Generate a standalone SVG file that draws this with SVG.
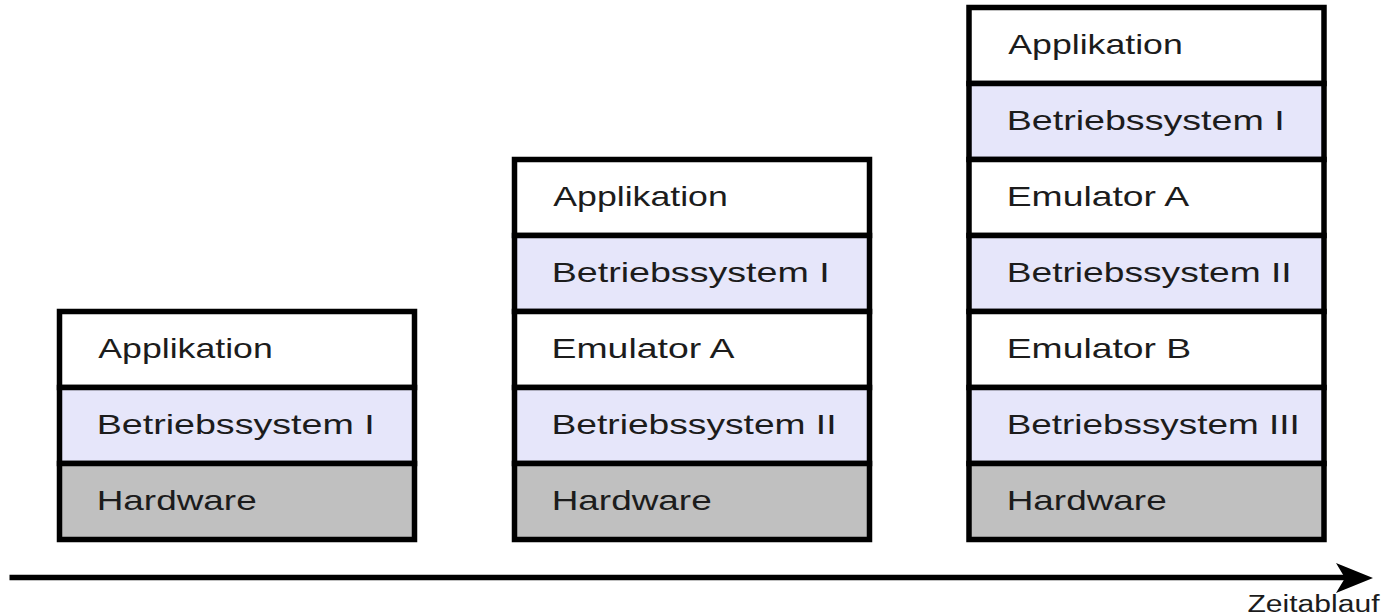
<svg xmlns="http://www.w3.org/2000/svg" width="1384" height="615" viewBox="0 0 1384 615">
<style>
  .w { fill: #ffffff; stroke: #000; stroke-width: 5.5; }
  .os { fill: #e6e6fa; stroke: #000; stroke-width: 5.5; }
  .hw { fill: #c0c0c0; stroke: #000; stroke-width: 5.5; }
  .t { font-family: "Liberation Sans", Arial, sans-serif; font-size: 28px; fill: #1c1c1c; }
  .axis { font-family: "Liberation Sans", Arial, sans-serif; font-size: 23px; fill: #1c1c1c; }
</style>
<rect width="1384" height="615" fill="#ffffff"/>

<g id="stack1">
  <g id="s1-app"><rect class="w" x="59.5" y="311.5" width="355" height="76"/><text class="t" x="98.3" y="357.5" textLength="174.5" lengthAdjust="spacingAndGlyphs">Applikation</text></g>
  <g id="s1-os1"><rect class="os" x="59.5" y="387.5" width="355" height="76"/><text class="t" x="96.7" y="433.5" textLength="278" lengthAdjust="spacingAndGlyphs">Betriebssystem I</text></g>
  <g id="s1-hw"><rect class="hw" x="59.5" y="463.5" width="355" height="76"/><text class="t" x="96.7" y="509.5" textLength="160" lengthAdjust="spacingAndGlyphs">Hardware</text></g>
</g>

<g id="stack2">
  <g id="s2-app"><rect class="w" x="514.5" y="159.5" width="355" height="76"/><text class="t" x="553.3" y="205.5" textLength="174.5" lengthAdjust="spacingAndGlyphs">Applikation</text></g>
  <g id="s2-os1"><rect class="os" x="514.5" y="235.5" width="355" height="76"/><text class="t" x="551.7" y="281.5" textLength="278" lengthAdjust="spacingAndGlyphs">Betriebssystem I</text></g>
  <g id="s2-emuA"><rect class="w" x="514.5" y="311.5" width="355" height="76"/><text class="t" x="551.5" y="357.5" textLength="183" lengthAdjust="spacingAndGlyphs">Emulator A</text></g>
  <g id="s2-os2"><rect class="os" x="514.5" y="387.5" width="355" height="76"/><text class="t" x="551.5" y="433.5" textLength="285" lengthAdjust="spacingAndGlyphs">Betriebssystem II</text></g>
  <g id="s2-hw"><rect class="hw" x="514.5" y="463.5" width="355" height="76"/><text class="t" x="551.7" y="509.5" textLength="160" lengthAdjust="spacingAndGlyphs">Hardware</text></g>
</g>

<g id="stack3">
  <g id="s3-app"><rect class="w" x="969" y="7.5" width="355" height="76"/><text class="t" x="1008.3" y="53.5" textLength="174.5" lengthAdjust="spacingAndGlyphs">Applikation</text></g>
  <g id="s3-os1"><rect class="os" x="969" y="83.5" width="355" height="76"/><text class="t" x="1006.7" y="129.5" textLength="278" lengthAdjust="spacingAndGlyphs">Betriebssystem I</text></g>
  <g id="s3-emuA"><rect class="w" x="969" y="159.5" width="355" height="76"/><text class="t" x="1006.7" y="205.5" textLength="182.5" lengthAdjust="spacingAndGlyphs">Emulator A</text></g>
  <g id="s3-os2"><rect class="os" x="969" y="235.5" width="355" height="76"/><text class="t" x="1006.7" y="281.5" textLength="285" lengthAdjust="spacingAndGlyphs">Betriebssystem II</text></g>
  <g id="s3-emuB"><rect class="w" x="969" y="311.5" width="355" height="76"/><text class="t" x="1006.7" y="357.5" textLength="184.5" lengthAdjust="spacingAndGlyphs">Emulator B</text></g>
  <g id="s3-os3"><rect class="os" x="969" y="387.5" width="355" height="76"/><text class="t" x="1006.7" y="433.5" textLength="293" lengthAdjust="spacingAndGlyphs">Betriebssystem III</text></g>
  <g id="s3-hw"><rect class="hw" x="969" y="463.5" width="355" height="76"/><text class="t" x="1006.7" y="509.5" textLength="160" lengthAdjust="spacingAndGlyphs">Hardware</text></g>
</g>

<g id="connectors">
  <line x1="9.5" y1="577.5" x2="1346" y2="577.5" stroke="#000" stroke-width="5.5"/>
  <polygon points="1373,578 1336,563 1345,578 1336,593" fill="#000"/>
</g>
<text class="axis" x="1247.5" y="612" textLength="132" lengthAdjust="spacingAndGlyphs">Zeitablauf</text>
</svg>
